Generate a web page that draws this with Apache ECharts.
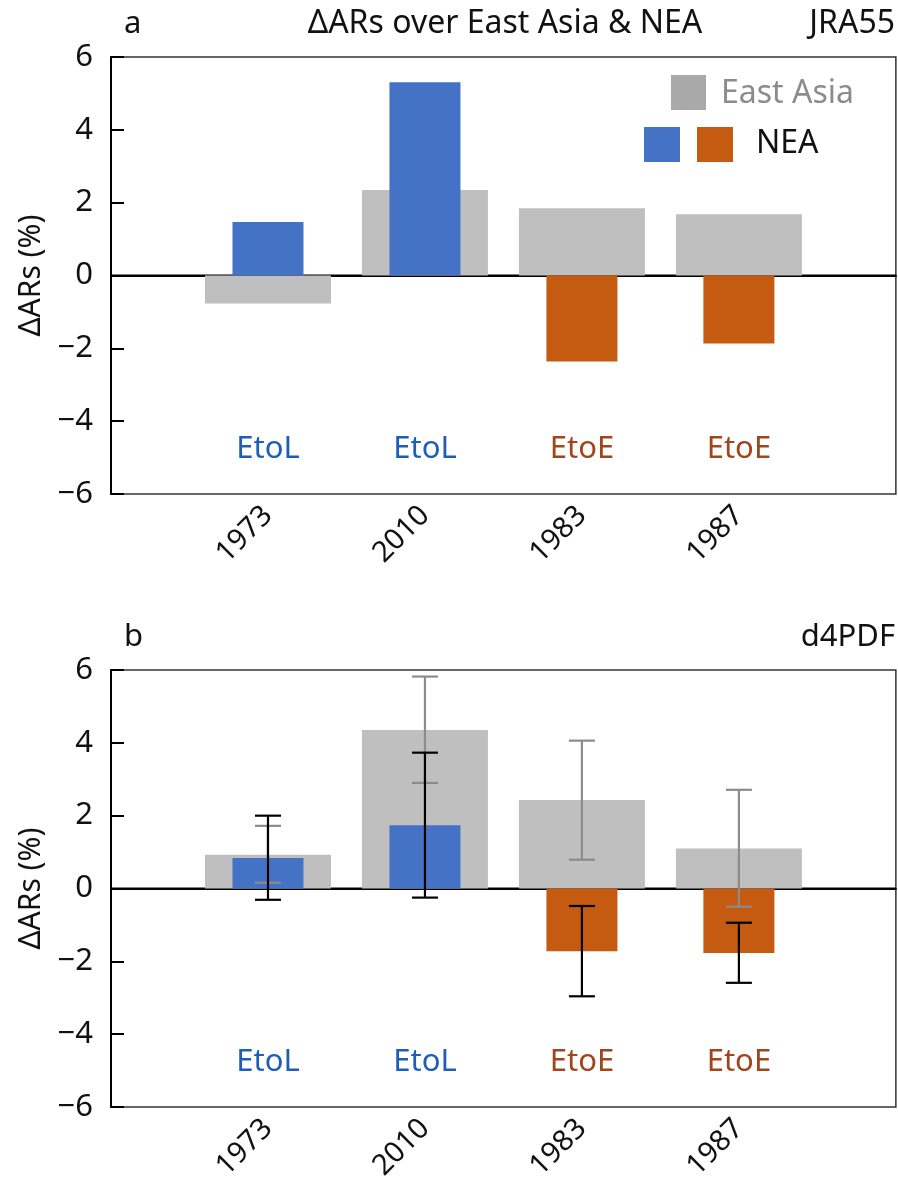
<!DOCTYPE html>
<html>
<head>
<meta charset="utf-8">
<script src="https://cdn.jsdelivr.net/npm/echarts@6/dist/echarts.min.js"></script>
<style>
html,body{margin:0;padding:0;background:#fff;}
#chart{width:898px;height:1185px;}
</style>
</head>
<body>
<div id="chart"></div>
<script>
// ---- data ----
const categories = ['1973', '2010', '1983', '1987'];
const types = ['EtoL', 'EtoL', 'EtoE', 'EtoE'];
const yTicks = [-6, -4, -2, 0, 2, 4, 6];

// panel a (JRA55)
const eastAsiaA = [-0.77, 2.35, 1.85, 1.68];
const neaA = [1.47, 5.31, -2.36, -1.87];

// panel b (d4PDF)
const eastAsiaB = [0.93, 4.35, 2.43, 1.10];
const neaB = [0.84, 1.74, -1.72, -1.77];
const eastAsiaErrLowB = [0.16, 2.90, 0.79, -0.50];
const eastAsiaErrHighB = [1.72, 5.82, 4.06, 2.71];
const neaErrLowB = [-0.31, -0.25, -2.96, -2.59];
const neaErrHighB = [2.00, 3.73, -0.48, -0.94];

// ---- style ----
const FONT = 'Noto Sans';
const GRAY = '#BFBFBF';
const BLUE = '#4472C4';
const ORANGE = '#C55A11';
const BLUE_TXT = '#1E5EB9';
const ORANGE_TXT = '#A0461A';
const typeColor = t => (t === 'EtoL' ? BLUE : ORANGE);
const typeTxt = t => (t === 'EtoL' ? BLUE_TXT : ORANGE_TXT);

const cats = [''].concat(categories).concat(['']);
const pad = arr => ['-'].concat(arr).concat(['-']);

function xAxisFor(gi, visible) {
  return {
    type: 'category', gridIndex: gi, data: cats, boundaryGap: false, show: visible,
    axisLine: { show: true, lineStyle: { color: '#000', width: 2 } },
    axisTick: { show: true, inside: true, length: 12, lineStyle: { color: '#000', width: 2 },
      interval: (i) => i > 0 && i < cats.length - 1 },
    axisLabel: { rotate: 45, margin: 17, fontSize: 29, color: '#111', fontFamily: FONT,
      interval: 0 },
    splitLine: { show: false }
  };
}
function yAxisFor(gi) {
  return {
    type: 'value', gridIndex: gi, min: yTicks[0], max: yTicks[yTicks.length - 1], interval: 2,
    name: 'ΔARs (%)', nameLocation: 'middle', nameGap: 56, nameRotate: 90,
    nameTextStyle: { fontSize: 30, color: '#111', fontFamily: FONT },
    axisLine: { show: true, lineStyle: { color: '#000', width: 2 } },
    axisTick: { show: true, inside: true, length: 13, lineStyle: { color: '#000', width: 2 } },
    axisLabel: { fontSize: 31, color: '#111', fontFamily: FONT, margin: 18,
      formatter: v => (v < 0 ? '\u2212' + Math.abs(v) : String(v)) },
    splitLine: { show: false }
  };
}

function zeroLine(gi) {
  return {
    type: 'line', xAxisIndex: gi, yAxisIndex: gi, data: cats.map(() => 0),
    symbol: 'none', lineStyle: { color: '#000', width: 2 }, z: 1, silent: true
  };
}
function grayBars(gi, vals) {
  return {
    type: 'bar', xAxisIndex: gi, yAxisIndex: gi, data: pad(vals), barWidth: 126,
    itemStyle: { color: GRAY }, z: 2, silent: true
  };
}
function neaBars(xi, yi, vals) {
  const d = ['-'].concat(vals.map((v, i) => ({ value: v, itemStyle: { color: typeColor(types[i]) } }))).concat(['-']);
  return {
    type: 'bar', xAxisIndex: xi, yAxisIndex: yi, data: d, barWidth: 71,
    z: 3, silent: true
  };
}
function errBars(gi, lows, highs, color, z) {
  return {
    type: 'custom', xAxisIndex: gi, yAxisIndex: gi, z: z, silent: true,
    data: lows.map((l, i) => [i + 1, l, highs[i]]),
    renderItem: function (params, api) {
      const x = api.value(0);
      const pl = api.coord([x, api.value(1)]);
      const ph = api.coord([x, api.value(2)]);
      const h = 13;
      const st = { stroke: color, lineWidth: 2.2 };
      return { type: 'group', children: [
        { type: 'line', shape: { x1: pl[0], y1: pl[1], x2: ph[0], y2: ph[1] }, style: st },
        { type: 'line', shape: { x1: pl[0] - h, y1: pl[1], x2: pl[0] + h, y2: pl[1] }, style: st },
        { type: 'line', shape: { x1: ph[0] - h, y1: ph[1], x2: ph[0] + h, y2: ph[1] }, style: st }
      ]};
    }
  };
}
function typeLabels(gi) {
  return {
    type: 'custom', xAxisIndex: gi, yAxisIndex: gi, z: 5, silent: true,
    data: types.map((t, i) => [i + 1, -4.76]),
    renderItem: function (params, api) {
      const p = api.coord([api.value(0), api.value(1)]);
      const t = types[params.dataIndex];
      return { type: 'text', x: p[0], y: p[1],
        style: { text: t, fill: typeTxt(t), font: '31px "' + FONT + '"', align: 'center', verticalAlign: 'middle' } };
    }
  };
}

const txt = (x, y, s, opts) => Object.assign({ type: 'text', x: x, y: y,
  style: Object.assign({ text: s, fill: '#111', font: '31px "' + FONT + '"', verticalAlign: 'middle' }, opts || {}) });

const option = {
  animation: false,
  backgroundColor: '#fff',
  grid: [
    { left: 111, width: 785, top: 57, height: 437, show: true, borderColor: '#333', borderWidth: 1.5, backgroundColor: 'transparent' },
    { left: 111, width: 785, top: 670, height: 437, show: true, borderColor: '#333', borderWidth: 1.5, backgroundColor: 'transparent' }
  ],
  xAxis: [xAxisFor(0, true), xAxisFor(1, true), xAxisFor(0, false), xAxisFor(1, false)],
  yAxis: [yAxisFor(0), yAxisFor(1)],
  series: [
    zeroLine(0), grayBars(0, eastAsiaA), neaBars(2, 0, neaA), typeLabels(0),
    zeroLine(1), grayBars(1, eastAsiaB), neaBars(3, 1, neaB),
    errBars(1, eastAsiaErrLowB, eastAsiaErrHighB, '#8C8C8C', 6),
    errBars(1, neaErrLowB, neaErrHighB, '#000', 7),
    typeLabels(1)
  ],
  graphic: [
    txt(124, 24, 'a'),
    txt(505, 24, 'ΔARs over East Asia & NEA', { align: 'center', font: '32px "' + FONT + '"' }),
    txt(895, 24, 'JRA55', { align: 'right', font: '32px "' + FONT + '"' }),
    txt(124, 637, 'b'),
    txt(895, 637, 'd4PDF', { align: 'right' }),
    { type: 'rect', shape: { x: 671, y: 75, width: 35, height: 35 }, style: { fill: '#A9A9A9' } },
    txt(721, 94, 'East Asia', { fill: '#8C8C8C', font: '32px "' + FONT + '"' }),
    { type: 'rect', shape: { x: 644, y: 127, width: 36, height: 35 }, style: { fill: BLUE } },
    { type: 'rect', shape: { x: 697, y: 127, width: 36, height: 35 }, style: { fill: ORANGE } },
    txt(756, 144, 'NEA', { fill: '#111', font: '32px "' + FONT + '"' })
  ]
};

const chart = echarts.init(document.getElementById('chart'), null, { renderer: 'canvas' });
chart.setOption(option);
</script>
</body>
</html>
